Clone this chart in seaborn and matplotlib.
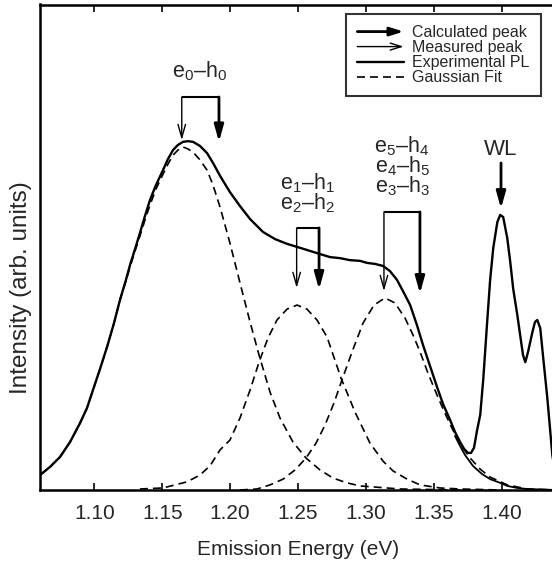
import numpy as np
import pandas as pd
import matplotlib
matplotlib.use("Agg")
import matplotlib.pyplot as plt
import seaborn as sns
from matplotlib.legend_handler import HandlerBase
from matplotlib.patches import FancyArrowPatch
from matplotlib.lines import Line2D

# ---------------- data ----------------
pl_energy = [1.0600, 1.0674, 1.0747, 1.0821, 1.0895, 1.0946, 1.0990, 1.1042, 1.1094, 1.1145,
             1.1189, 1.1233, 1.1263, 1.1300, 1.1336, 1.1373, 1.1410, 1.1454, 1.1506, 1.1543,
             1.1580, 1.1616, 1.1653, 1.1690, 1.1727, 1.1778, 1.1830, 1.1874, 1.1926, 1.1999,
             1.2073, 1.2147, 1.2242, 1.2331, 1.2419, 1.2493, 1.2566, 1.2662, 1.2736, 1.2809,
             1.2883, 1.2957, 1.3008, 1.3067, 1.3126, 1.3177, 1.3229, 1.3273, 1.3326, 1.3376,
             1.3421, 1.3472, 1.3524, 1.3568, 1.3620, 1.3656, 1.3694, 1.3723, 1.3752, 1.3774,
             1.3796, 1.3819, 1.3842, 1.3864, 1.3893, 1.3915, 1.3938, 1.3968, 1.3989, 1.4011,
             1.4041, 1.4063, 1.4085, 1.4115, 1.4137, 1.4157, 1.4174, 1.4194, 1.4225, 1.4245,
             1.4262, 1.4284, 1.4306, 1.4336, 1.4358, 1.4373, 1.4402]
pl_intensity = [0.044, 0.068, 0.097, 0.141, 0.197, 0.241, 0.294, 0.356, 0.421, 0.491,
                0.559, 0.618, 0.662, 0.709, 0.756, 0.806, 0.853, 0.897, 0.941, 0.974,
                1.000, 1.015, 1.024, 1.026, 1.024, 1.012, 0.991, 0.962, 0.924, 0.876,
                0.835, 0.797, 0.759, 0.738, 0.724, 0.715, 0.706, 0.694, 0.685, 0.682,
                0.676, 0.674, 0.668, 0.665, 0.659, 0.644, 0.618, 0.585, 0.544, 0.485,
                0.426, 0.365, 0.303, 0.253, 0.206, 0.171, 0.141, 0.121, 0.109, 0.109,
                0.124, 0.176, 0.221, 0.324, 0.494, 0.618, 0.712, 0.788, 0.809, 0.803,
                0.741, 0.671, 0.591, 0.515, 0.453, 0.397, 0.376, 0.406, 0.462, 0.494,
                0.500, 0.476, 0.388, 0.271, 0.171, 0.103, 0.029]

g1_energy = [1.0600, 1.0674, 1.0747, 1.0821, 1.0895, 1.0946, 1.0990, 1.1042, 1.1094, 1.1145,
             1.1189, 1.1233, 1.1263, 1.1300, 1.1336, 1.1373, 1.1410, 1.1454, 1.1506, 1.1543,
             1.1580, 1.1616, 1.1653, 1.1690, 1.1727, 1.1778, 1.1830, 1.1874, 1.1926, 1.1999,
             1.2073, 1.2147, 1.2213, 1.2294, 1.2367, 1.2463, 1.2559, 1.2662, 1.2758, 1.2861,
             1.2957, 1.3251, 1.3694]
g1_intensity = [0.044, 0.068, 0.097, 0.141, 0.197, 0.241, 0.294, 0.356, 0.421, 0.491,
                0.559, 0.615, 0.656, 0.703, 0.747, 0.794, 0.838, 0.885, 0.929, 0.959,
                0.985, 1.000, 1.009, 1.003, 0.994, 0.971, 0.941, 0.897, 0.832, 0.726,
                0.609, 0.494, 0.397, 0.288, 0.212, 0.141, 0.094, 0.059, 0.035, 0.021,
                0.012, 0.003, 0.000]

g2_energy = [1.1336, 1.1506, 1.1683, 1.1778, 1.1852, 1.1926, 1.1999, 1.2073, 1.2147, 1.2213,
             1.2279, 1.2345, 1.2419, 1.2493, 1.2566, 1.2640, 1.2714, 1.2817, 1.2920, 1.3030,
             1.3126, 1.3200, 1.3303, 1.3399, 1.3546, 1.3694, 1.3989]
g2_intensity = [0.003, 0.006, 0.024, 0.044, 0.071, 0.118, 0.147, 0.212, 0.294, 0.376,
                0.447, 0.500, 0.532, 0.544, 0.532, 0.500, 0.450, 0.329, 0.229, 0.138,
                0.085, 0.056, 0.032, 0.015, 0.006, 0.003, 0.000]

g3_energy = [1.2073, 1.2198, 1.2294, 1.2390, 1.2478, 1.2559, 1.2633, 1.2699, 1.2765, 1.2824,
             1.2898, 1.2979, 1.3060, 1.3141, 1.3214, 1.3288, 1.3347, 1.3399, 1.3457, 1.3524,
             1.3582, 1.3641, 1.3700, 1.3768, 1.3840, 1.3915, 1.4041, 1.4188, 1.4402]
g3_intensity = [0.000, 0.003, 0.015, 0.032, 0.059, 0.094, 0.138, 0.191, 0.256, 0.324,
                0.406, 0.491, 0.544, 0.565, 0.550, 0.506, 0.456, 0.406, 0.344, 0.279,
                0.226, 0.176, 0.132, 0.094, 0.062, 0.038, 0.015, 0.003, 0.000]

fit_tail_energy = [1.3656, 1.3694, 1.3730, 1.3788, 1.3855, 1.3915, 1.3989, 1.4041, 1.4115,
                   1.4188, 1.4402]
fit_tail_intensity = [0.159, 0.129, 0.103, 0.071, 0.047, 0.032, 0.021, 0.012, 0.006,
                      0.003, 0.000]

measured_peaks = [1.1644, 1.2490, 1.3133]
calculated_peaks = [1.1918, 1.2655, 1.3398]
bracket_levels = [1.156, 0.771, 0.818]
measured_tips = [1.029, 0.594, 0.585]
calculated_tips = [1.024, 0.590, 0.578]
transition_labels = ["e$_0$–h$_0$",
                     "e$_1$–h$_1$\ne$_2$–h$_2$",
                     "e$_5$–h$_4$\ne$_4$–h$_5$\ne$_3$–h$_3$"]
label_x = [1.1775, 1.2566, 1.3266]
label_y = [1.215, 0.824, 0.874]   # baseline of the last line

wl_peak = 1.3995
wl_arrow = [0.962, 0.828]
wl_label_y = 0.985

x_ticks = [1.10, 1.15, 1.20, 1.25, 1.30, 1.35, 1.40]

# ---------------- style ----------------
sns.set_style("white")
plt.rcParams["font.family"] = ["Liberation Sans", "DejaVu Sans"]
plt.rcParams["mathtext.fontset"] = "custom"
plt.rcParams["mathtext.rm"] = "Liberation Sans"
plt.rcParams["mathtext.it"] = "Liberation Sans:italic"
plt.rcParams["mathtext.bf"] = "Liberation Sans:bold"

fig = plt.figure(figsize=(5.52, 5.61), dpi=100)
ax = fig.add_axes([40 / 552, 71 / 561, 516 / 552, 485.5 / 561])

dash = (0, (4.8, 3.0))
for e, i in [(g1_energy, g1_intensity), (g2_energy, g2_intensity), (g3_energy, g3_intensity)]:
    sns.lineplot(x=e, y=i, ax=ax, color="black", lw=1.2, linestyle=dash, estimator=None)
sns.lineplot(x=fit_tail_energy, y=fit_tail_intensity, ax=ax, color="black", lw=1.3,
             estimator=None)
sns.lineplot(x=pl_energy, y=pl_intensity, ax=ax, color="black", lw=1.7, estimator=None)

ax.set_xlim(1.06, 1.44)
ax.set_ylim(0, 1.428)
ax.set_xticks(x_ticks)
ax.set_xticklabels([f"{t:.2f}" for t in x_ticks])
ax.set_yticks([])
ax.tick_params(axis="x", direction="in", length=5, width=1.4, top=True, bottom=True,
               labelsize=15, pad=10)
for s in ax.spines.values():
    s.set_linewidth(1.8)
    s.set_color("black")
ax.set_xlabel("Emission Energy (eV)", fontsize=15, labelpad=12)
ax.set_ylabel("Intensity (arb. units)", fontsize=17.5)
ax.yaxis.set_label_coords(-0.0155, 0.417)

thick_style = "-|>,head_length=1.0,head_width=0.28"
thin_style = "->,head_length=0.95,head_width=0.27"

for k in range(3):
    top = bracket_levels[k]
    ax.plot([measured_peaks[k], calculated_peaks[k]], [top, top], color="black", lw=1.5,
            solid_capstyle="butt")
    ax.annotate("", xy=(measured_peaks[k], measured_tips[k]), xytext=(measured_peaks[k], top),
                arrowprops=dict(arrowstyle=thin_style, lw=1.0, color="black",
                                shrinkA=0, shrinkB=0, mutation_scale=10))
    ax.annotate("", xy=(calculated_peaks[k], calculated_tips[k]),
                xytext=(calculated_peaks[k], top),
                arrowprops=dict(arrowstyle=thick_style, lw=2.0, color="black",
                                shrinkA=0, shrinkB=0, mutation_scale=10))
    ax.text(label_x[k], label_y[k], transition_labels[k], ha="center", va="baseline",
            multialignment="center", fontsize=15.5, linespacing=0.8)

ax.annotate("", xy=(wl_peak, wl_arrow[1]), xytext=(wl_peak, wl_arrow[0]),
            arrowprops=dict(arrowstyle=thick_style, lw=2.0, color="black",
                            shrinkA=0, shrinkB=0, mutation_scale=10))
ax.text(wl_peak, wl_label_y, "WL", ha="center", va="baseline", fontsize=16)


class ArrowHandler(HandlerBase):
    def __init__(self, lw, style):
        super().__init__()
        self.lw = lw
        self.style = style

    def create_artists(self, legend, orig_handle, xdescent, ydescent, width, height,
                       fontsize, trans):
        y = height / 2 - ydescent
        p = FancyArrowPatch((-xdescent, y), (width - xdescent, y), arrowstyle=self.style,
                            mutation_scale=10, lw=self.lw, color="black", transform=trans,
                            shrinkA=0, shrinkB=0)
        return [p]


h_calc = Line2D([], [], color="black")
h_meas = Line2D([], [], color="black")
h_pl = Line2D([], [], color="black", lw=1.7)
h_fit = Line2D([], [], color="black", lw=1.2, linestyle=dash)
leg = ax.legend([h_calc, h_meas, h_pl, h_fit],
                ["Calculated peak", "Measured peak", "Experimental PL", "Gaussian Fit"],
                handler_map={h_calc: ArrowHandler(2.0, "-|>,head_length=0.8,head_width=0.25"),
                             h_meas: ArrowHandler(1.0, "->,head_length=0.8,head_width=0.25")},
                loc="upper right", bbox_to_anchor=(501 / 516, (490 - 14) / 485.5),
                borderaxespad=0, fontsize=11.5, frameon=True, fancybox=False,
                edgecolor="black", handlelength=2.9, handletextpad=0.55,
                labelspacing=0.0, borderpad=0.7)
leg.get_frame().set_linewidth(1.5)

fig.savefig("out.png", dpi=100)
